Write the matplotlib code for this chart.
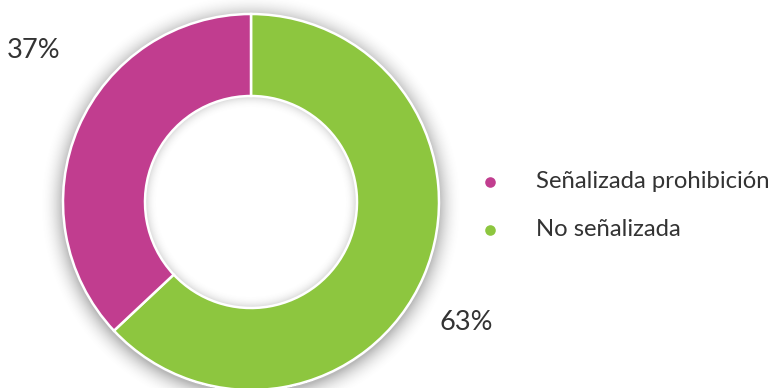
import numpy as np
import matplotlib
matplotlib.use("Agg")
import matplotlib.pyplot as plt

categories = ["Señalizada prohibición", "No señalizada"]
shares = [37, 63]
colors = ["#C13D8F", "#8DC63F"]

W, H = 778, 388
fig = plt.figure(figsize=(W / 100, H / 100), dpi=100)
ax = fig.add_axes([0, 0, 1, 1])

cx, cy = 251, H - 202
r_out, r_in = 188, 106

# soft drop shadow outside the ring and inner shadow inside the hole
yy, xx = np.mgrid[0:H, 0:W]
d = np.hypot(xx + 0.5 - cx, (H - yy - 0.5) - cy + 3)
outer = np.clip((d - r_out) / 24.0, 0, 1)
a_out = np.where(d > r_out - 2, 0.42 * (1 - outer) ** 2.2, 0)
d2 = np.hypot(xx + 0.5 - cx, (H - yy - 0.5) - cy)
inner = np.clip((r_in - d2) / 14.0, 0, 1)
a_in = np.where(d2 < r_in + 1, 0.25 * (1 - inner) ** 2.5, 0)
alpha = np.clip(a_out + a_in, 0, 1)
shadow = np.zeros((H, W, 4))
shadow[..., :3] = 0.35
shadow[..., 3] = alpha
ax.imshow(shadow, extent=(0, W, 0, H), origin="upper", zorder=1, interpolation="bilinear")

# ring: "No señalizada" from 12 o'clock clockwise, then "Señalizada prohibición"
order = [1, 0]
ax.pie([shares[i] for i in order], colors=[colors[i] for i in order],
       startangle=90, counterclock=False, center=(cx, cy), radius=r_out,
       wedgeprops=dict(width=r_out - r_in, edgecolor="white", linewidth=1.8),
       frame=True)
ax.set_xlim(0, W)
ax.set_ylim(0, H)
ax.set_aspect("equal")
ax.axis("off")
for p in ax.patches:
    p.set_zorder(2)

font = dict(family=["Lato", "DejaVu Sans"], fontweight="normal", color="#333333")
ax.text(34, H - 50, f"{shares[0]}%", fontsize=19.5, ha="center", va="center", **font)
ax.text(466, H - 322, f"{shares[1]}%", fontsize=19.5, ha="center", va="center", **font)

for i, (lab, col) in enumerate(zip(categories, colors)):
    y = H - (182 + 48 * i)
    ax.scatter([490], [y], s=58, color=col, zorder=3, linewidths=0)
    ax.text(536, y, lab, fontsize=17.2, ha="left", va="center", **font)

fig.savefig("out.png", dpi=100)
